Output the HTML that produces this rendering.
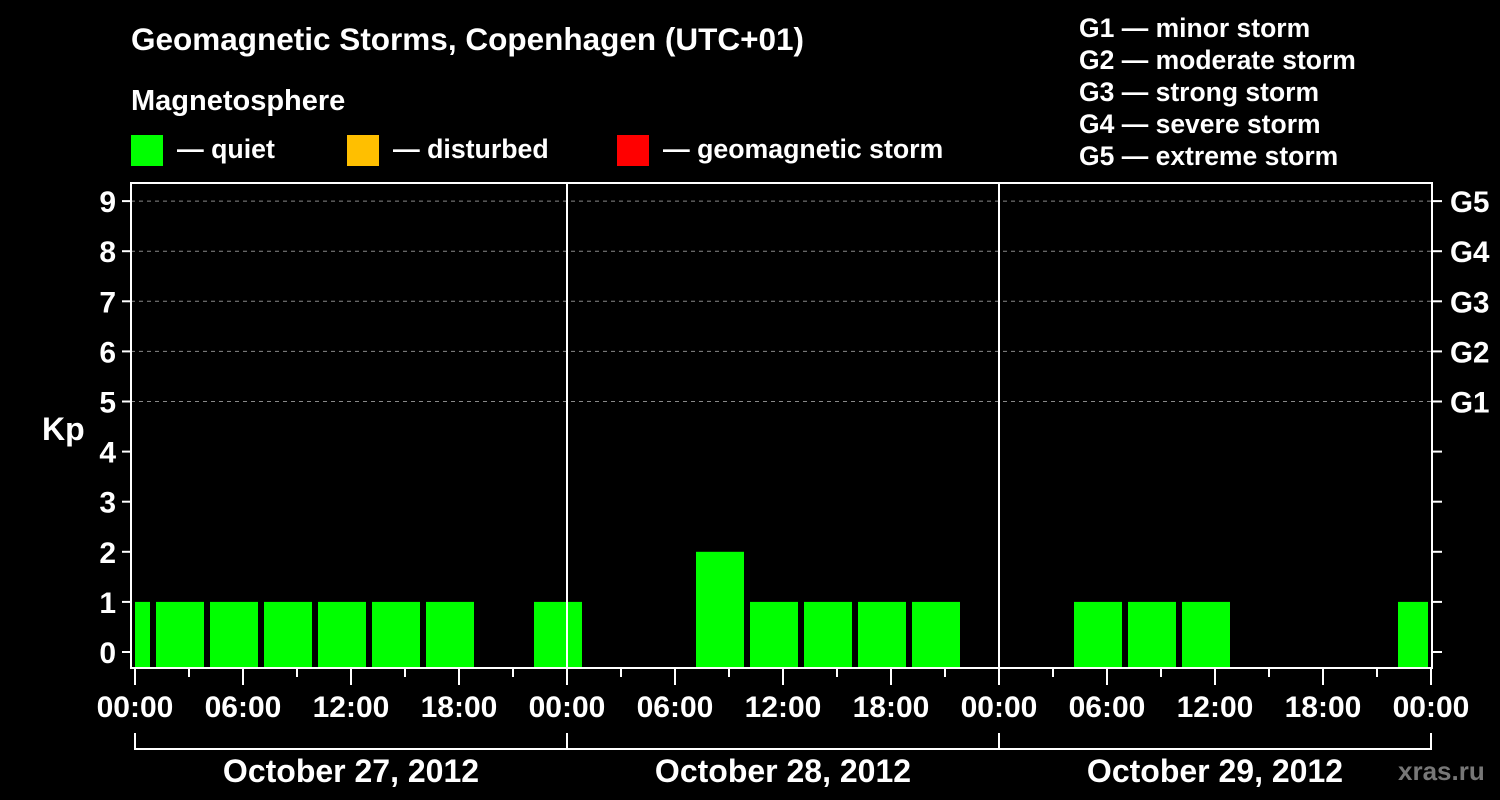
<!DOCTYPE html>
<html><head><meta charset="utf-8"><style>
body{margin:0;background:#000;width:1500px;height:800px;overflow:hidden}
svg{display:block;font-family:"Liberation Sans",Arial,sans-serif;font-weight:bold}
</style></head><body>
<svg id="c" width="1500" height="800">
<text x="131" y="50" fill="#fff" font-size="31.5">Geomagnetic Storms, Copenhagen (UTC+01)</text>
<text x="131" y="110" fill="#fff" font-size="29">Magnetosphere</text>
<g><rect x="131" y="135" width="32" height="31" fill="#00ff00"/><text x="177" y="158" fill="#fff" font-size="26.7">— quiet</text></g>
<g><rect x="347" y="135" width="32" height="31" fill="#ffbf00"/><text x="393" y="158" fill="#fff" font-size="26.7">— disturbed</text></g>
<g><rect x="617" y="135" width="32" height="31" fill="#ff0000"/><text x="663" y="158" fill="#fff" font-size="26.7">— geomagnetic storm</text></g>
<g fill="#fff" font-size="26.5">
<text x="1079" y="37">G1 — minor storm</text><text x="1079" y="69">G2 — moderate storm</text><text x="1079" y="101">G3 — strong storm</text><text x="1079" y="133">G4 — severe storm</text><text x="1079" y="165">G5 — extreme storm</text></g>
<text x="42" y="440" fill="#fff" font-size="32">Kp</text>
<text x="1398" y="780" fill="#777" font-size="26">xras.ru</text>
<g id="grid"></g><g id="bars"></g><g id="axes"></g>
</svg>
<script>
const dayLabels=["October 27, 2012","October 28, 2012","October 29, 2012"];
const yTicks=[0,1,2,3,4,5,6,7,8,9];
const gLabels=["G1","G2","G3","G4","G5"];
const xTickLabels=["00:00","06:00","12:00","18:00"];
// 3-hour UTC intervals starting Oct 26 21:00 UTC (null = no bar)
const kpValues=[1,1,1,1,1,1,1,null,1, null,null,2,1,1,1,1,null, null,1,1,1,null,null,null,1];
const startHourLocal=-2;
const X0=135,PX_H=18,L=131,R=1432,T=183,B=668;
const x=h=>X0+h*PX_H, y=k=>652-k*50.1;
function el(t,a,p){const e=document.createElementNS("http://www.w3.org/2000/svg",t);for(const k in a)e.setAttribute(k,a[k]);p.appendChild(e);return e;}
const grid=document.getElementById('grid'),bars=document.getElementById('bars'),axes=document.getElementById('axes');
yTicks.forEach(k=>{
  if(k>=5){const g=el('line',{x1:L,x2:R,y1:y(k),y2:y(k),stroke:'#888','stroke-dasharray':'4,4','stroke-width':1},grid);
  
  }
  el('line',{x1:122,x2:L,y1:y(k),y2:y(k),stroke:'#fff','stroke-width':2},axes);
  el('line',{x1:R,x2:1442,y1:y(k),y2:y(k),stroke:'#fff','stroke-width':2},axes);
  const t=el('text',{x:116,y:y(k)+11,fill:'#fff','font-size':30,'text-anchor':'end'},axes);t.textContent=k;
  
  
});
gLabels.forEach((g,i)=>{const t=el('text',{x:1450,y:y(i+5)+11,fill:'#fff','font-size':29.6},axes);t.textContent=g;
  
  });
kpValues.forEach((v,i)=>{
  if(v===null)return;
  let h0=startHourLocal+i*3,h1=h0+3;
  let a=Math.max(x(h0)+3,X0),b=Math.min(x(h1)-3,x(72)-3);
  const r=el('rect',{x:a,y:y(v),width:b-a,height:B-y(v),fill:v>=5?'#ff0000':(v>=4?'#ffbf00':'#00ff00')},bars);
  
  
});
el('rect',{x:L,y:T,width:R-L,height:B-T,fill:'none',stroke:'#fff','stroke-width':2},axes);
[1,2].forEach(d=>el('line',{x1:x(d*24),x2:x(d*24),y1:T,y2:B,stroke:'#fff','stroke-width':2},axes));
for(let h=0;h<=72;h+=3){
  el('line',{x1:x(h),x2:x(h),y1:B,y2:h%6?677:685,stroke:'#fff','stroke-width':2},axes);
  if(h%6===0){const t=el('text',{x:x(h),y:717,fill:'#fff','font-size':30,'text-anchor':'middle'},axes);t.textContent=xTickLabels[(h%24)/6];
  
  }
}
el('line',{x1:x(0),x2:x(72),y1:749,y2:749,stroke:'#fff','stroke-width':2},axes);
for(let d=0;d<=3;d++)el('line',{x1:x(d*24),x2:x(d*24),y1:733,y2:750,stroke:'#fff','stroke-width':2},axes);
dayLabels.forEach((s,d)=>{const t=el('text',{x:x(d*24+12),y:782,fill:'#fff','font-size':32,'text-anchor':'middle'},axes);t.textContent=s;
  
  });
</script>
</body></html>
